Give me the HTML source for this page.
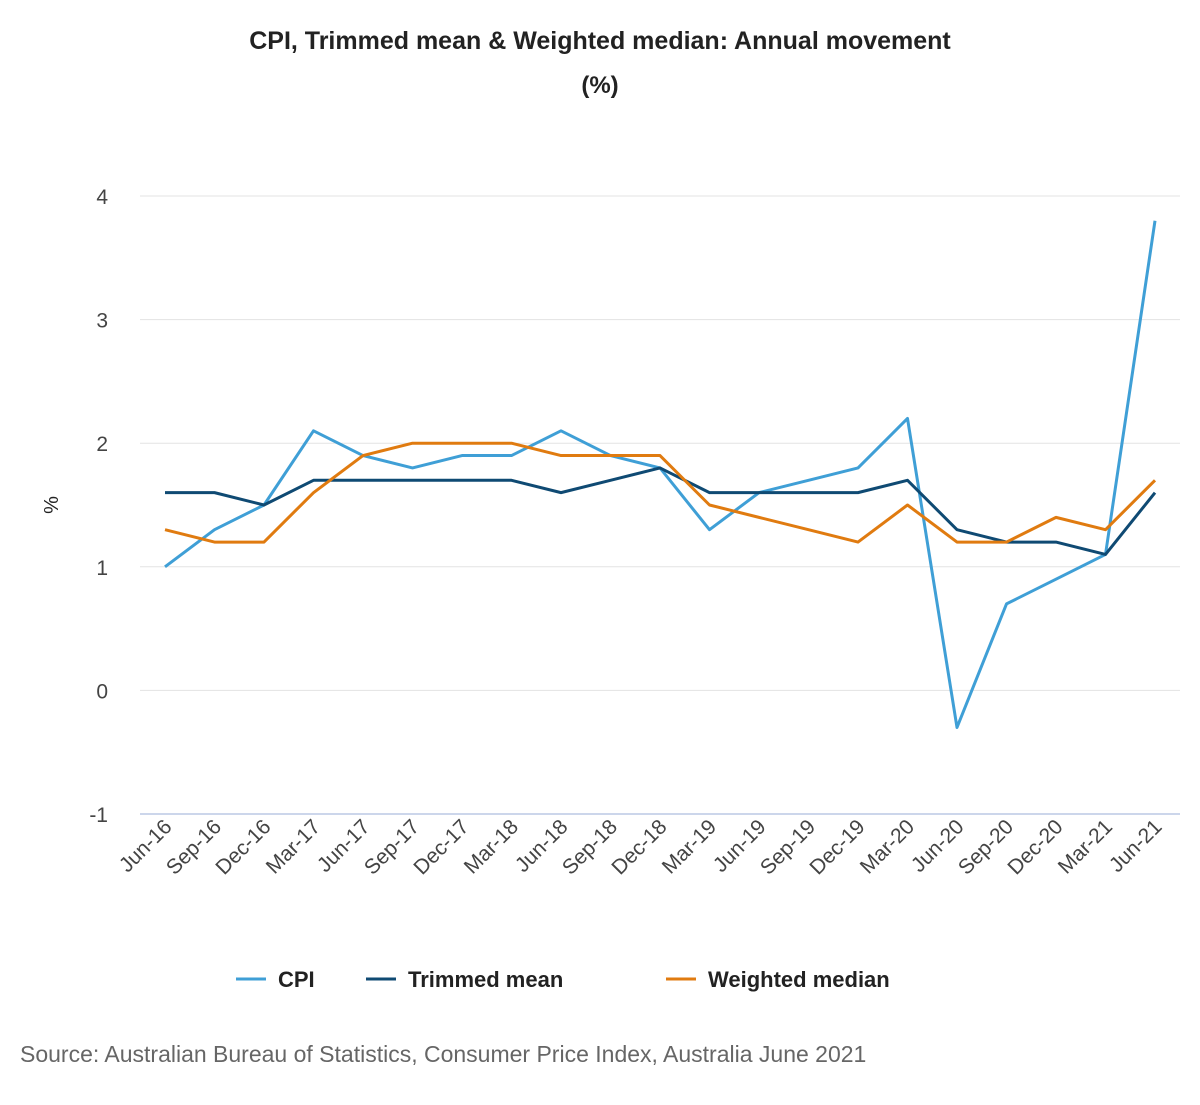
<!DOCTYPE html>
<html><head><meta charset="utf-8">
<style>
body{margin:0;background:#fff;font-family:"Liberation Sans",sans-serif;}
svg text{font-family:"Liberation Sans",sans-serif;}
</style></head>
<body>
<svg width="1200" height="1100">
<text x="600" y="49" text-anchor="middle" font-size="25" font-weight="bold" fill="#222">CPI, Trimmed mean &amp; Weighted median: Annual movement</text>
<text x="600" y="93" text-anchor="middle" font-size="24" font-weight="bold" fill="#222">(%)</text>
<text transform="translate(58,505) rotate(-90)" text-anchor="middle" font-size="20" fill="#222">%</text>
<g id="grid"></g><g id="xl"></g><g id="lines"></g>
<g>
 <g><line x1="236" y1="979" x2="266" y2="979" stroke="#3f9fd6" stroke-width="3"/><text x="278" y="987" font-size="22" font-weight="bold" fill="#222">CPI</text></g>
 <g><line x1="366" y1="979" x2="396" y2="979" stroke="#0f4a73" stroke-width="3"/><text x="408" y="987" font-size="22" font-weight="bold" fill="#222">Trimmed mean</text></g>
 <g><line x1="666" y1="979" x2="696" y2="979" stroke="#e07b10" stroke-width="3"/><text x="708" y="987" font-size="22" font-weight="bold" fill="#222">Weighted median</text></g>
</g>
<text x="20" y="1062" font-size="23" fill="#666">Source: Australian Bureau of Statistics, Consumer Price Index, Australia June 2021</text>
</svg>
<script>
const categories=["Jun-16","Sep-16","Dec-16","Mar-17","Jun-17","Sep-17","Dec-17","Mar-18","Jun-18","Sep-18","Dec-18","Mar-19","Jun-19","Sep-19","Dec-19","Mar-20","Jun-20","Sep-20","Dec-20","Mar-21","Jun-21"];
const cpi=[1.0,1.3,1.5,2.1,1.9,1.8,1.9,1.9,2.1,1.9,1.8,1.3,1.6,1.7,1.8,2.2,-0.3,0.7,0.9,1.1,3.8];
const trimmedMean=[1.6,1.6,1.5,1.7,1.7,1.7,1.7,1.7,1.6,1.7,1.8,1.6,1.6,1.6,1.6,1.7,1.3,1.2,1.2,1.1,1.6];
const weightedMedian=[1.3,1.2,1.2,1.6,1.9,2.0,2.0,2.0,1.9,1.9,1.9,1.5,1.4,1.3,1.2,1.5,1.2,1.2,1.4,1.3,1.7];
const yTicks=[-1,0,1,2,3,4];
const NS="http://www.w3.org/2000/svg";
const x0=165,x1=1155,yTop=196,yBot=814,vMin=-1,vMax=4;
function xs(i){return x0+(x1-x0)*i/(categories.length-1);}
function ys(v){return yBot-(v-vMin)/(vMax-vMin)*(yBot-yTop);}
function mk(t,a,p){const e=document.createElementNS(NS,t);for(const k in a)e.setAttribute(k,a[k]);p.appendChild(e);return e;}
const grid=document.getElementById('grid');
yTicks.forEach(v=>{
 const l=mk('line',{x1:140,x2:1180,y1:ys(v),y2:ys(v),stroke:v===vMin?'#ccd6eb':'#e3e3e3','stroke-width':v===vMin?2:1},grid);
 
 
 const t=mk('text',{x:108,y:ys(v)+8,'text-anchor':'end','font-size':21,fill:'#444'},grid);
 t.textContent=v;
 
 
});
const xl=document.getElementById('xl');
categories.forEach((c,i)=>{
 const t=mk('text',{transform:`translate(${xs(i)+8},${828}) rotate(-45)`,'text-anchor':'end','font-size':21,fill:'#444'},xl);
 t.textContent=c;
 
 
});
const lines=document.getElementById('lines');
[[cpi,'#3f9fd6','cpi-line'],[trimmedMean,'#0f4a73','trimmed-mean-line'],[weightedMedian,'#e07b10','weighted-median-line']].forEach(([d,col,n])=>{
 const p=mk('polyline',{points:d.map((v,i)=>xs(i)+','+ys(v)).join(' '),fill:'none',stroke:col,'stroke-width':3,'stroke-linejoin':'round'},lines);
 
 
});
</script>
</body></html>
